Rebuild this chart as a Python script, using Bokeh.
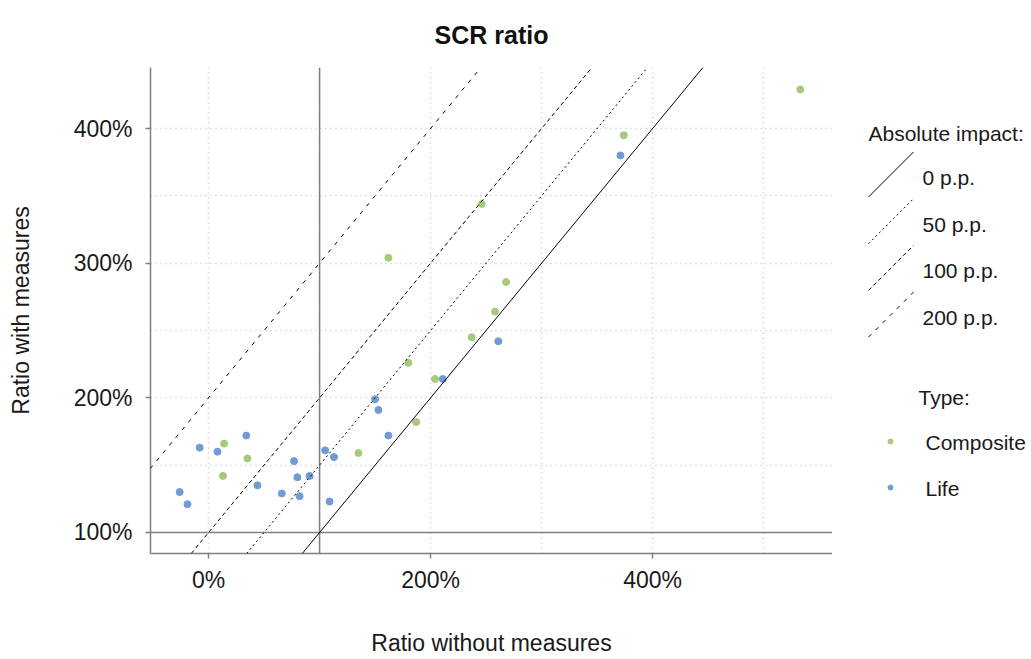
from bokeh.plotting import figure
from bokeh.layouts import row
from bokeh.models import Range1d, FixedTicker, PrintfTickFormatter, Slope, Span
from bokeh.core.properties import value
from bokeh.embed import file_html
from bokeh.resources import INLINE

# ---------------- data ----------------
life_x = [-8, 8, 34, -26, -19, 44, 77, 80, 91, 66, 82, 105, 113, 109, 211, 150, 153, 162, 261, 371]
life_y = [163, 160, 172, 130, 121, 135, 153, 141, 142, 129, 127, 161, 156, 123, 214, 199, 191, 172, 242, 380]
comp_x = [14, 35, 13, 162, 268, 258, 237, 180, 204, 187, 135, 533, 374, 246]
comp_y = [166, 155, 142, 304, 286, 264, 245, 226, 214, 182, 159, 429, 395, 344]

impacts = [0, 50, 100, 200]
impact_labels = ["0 p.p.", "50 p.p.", "100 p.p.", "200 p.p."]
impact_dash = ["solid", "2 3", "4 3", "4 6"]

types = ["Composite", "Life"]
type_colors = ["#A6C97B", "#709CD6"]

x_ticks = [0, 200, 400]
y_ticks = [100, 200, 300, 400]
x_grid = [0, 100, 200, 300, 400, 500]
y_grid = [150, 200, 250, 300, 350, 400]
ref_level = 100

FONT = "Liberation Sans"
TXT = "#1a1a1a"
AXIS_GRAY = "#7F7F7F"

H = 658
FRAME_TOP, FRAME_BOTTOM = 67, 553
# ---------------- main figure ----------------
p = figure(width=832, height=H, output_backend="svg", toolbar_location=None,
           x_range=Range1d(-52.3, 562), y_range=Range1d(84.4, 445.3),
           min_border_left=150, min_border_right=0, min_border_top=FRAME_TOP,
           min_border_bottom=H - FRAME_BOTTOM, title="SCR ratio")
p.outline_line_color = None
p.background_fill_color = "white"
p.border_fill_color = "white"

p.title.align = "center"
p.title.text_font = FONT
p.title.text_font_size = "25px"
p.title.text_font_style = "bold"
p.title.text_color = "#111111"
p.title.standoff = 37

for ax in (p.xaxis[0], p.yaxis[0]):
    ax.axis_line_color = AXIS_GRAY
    ax.axis_line_width = 1.5
    ax.major_tick_line_color = AXIS_GRAY
    ax.major_tick_line_width = 1.5
    ax.major_tick_out = 5
    ax.major_tick_in = 0
    ax.minor_tick_line_color = None
    ax.major_label_text_font = FONT
    ax.major_label_text_font_size = "23px"
    ax.major_label_text_color = TXT
    ax.axis_label_text_font = FONT
    ax.axis_label_text_font_size = "23px"
    ax.axis_label_text_font_style = "normal"
    ax.axis_label_text_color = TXT
    ax.formatter = PrintfTickFormatter(format="%d%%")

p.xaxis.major_label_standoff = 8
p.yaxis.major_label_standoff = 13
p.xaxis.ticker = FixedTicker(ticks=x_ticks)
p.yaxis.ticker = FixedTicker(ticks=y_ticks)
p.xaxis.axis_label = "Ratio without measures"
p.yaxis.axis_label = "Ratio with measures"
p.xaxis.axis_label_standoff = 34
p.yaxis.axis_label_standoff = 37

p.xgrid.ticker = FixedTicker(ticks=x_grid)
p.ygrid.ticker = FixedTicker(ticks=y_grid)
for g in (p.xgrid[0], p.ygrid[0]):
    g.grid_line_color = "#C4C4C4"
    g.grid_line_dash = "1 4"
    g.grid_line_width = 1.5

# reference lines at 100%
p.add_layout(Span(location=ref_level, dimension="width", line_color=AXIS_GRAY, line_width=1.5))
p.add_layout(Span(location=ref_level, dimension="height", line_color=AXIS_GRAY, line_width=1.5))

# absolute impact lines
for imp, dash in zip(impacts, impact_dash):
    p.add_layout(Slope(gradient=1, y_intercept=imp, line_color="black", line_width=1, line_dash=dash))

# points
p.scatter(comp_x, comp_y, size=7, fill_color=type_colors[0], line_color=type_colors[0])
p.scatter(life_x, life_y, size=7, fill_color=type_colors[1], line_color=type_colors[1])

# ---------------- legend figure (frame aligned with main frame; y in page pixels) ----------------
LW = 196
leg = figure(width=LW, height=H, output_backend="svg", toolbar_location=None,
             x_range=Range1d(0, LW), y_range=Range1d(FRAME_BOTTOM, FRAME_TOP),
             min_border=0, x_axis_type=None, y_axis_type=None)
leg.outline_line_color = None
leg.grid.visible = False
leg.background_fill_color = "white"
leg.border_fill_color = "white"

LFS = "21px"
leg.text(x=[36], y=[133], text=["Absolute impact:"], text_font=value(FONT), text_font_size=LFS,
         text_color=TXT, text_baseline="middle", text_align="left")

key_x0, key_size, key_y0, key_step = 36, 45, 174, 46.7
for i, (lab, dash) in enumerate(zip(impact_labels, impact_dash)):
    yc = key_y0 + i * key_step
    leg.segment(x0=[key_x0], y0=[yc + key_size / 2], x1=[key_x0 + key_size], y1=[yc - key_size / 2],
                line_color="black", line_width=1, line_dash=dash)
    leg.text(x=[90], y=[yc + 3], text=[lab], text_font=value(FONT), text_font_size=LFS,
             text_color=TXT, text_baseline="middle", text_align="left")

leg.text(x=[86], y=[397], text=["Type:"], text_font=value(FONT), text_font_size=LFS,
         text_color=TXT, text_baseline="middle", text_align="left")
for i, (lab, col) in enumerate(zip(types, type_colors)):
    yc = 441 + i * 46
    leg.scatter(x=[58], y=[yc], size=5, fill_color=col, line_color=col)
    leg.text(x=[93], y=[yc + 1], text=[lab], text_font=value(FONT), text_font_size=LFS,
             text_color=TXT, text_baseline="middle", text_align="left")

layout = row(p, leg)
open("out.html", "w").write(file_html(layout, INLINE))
